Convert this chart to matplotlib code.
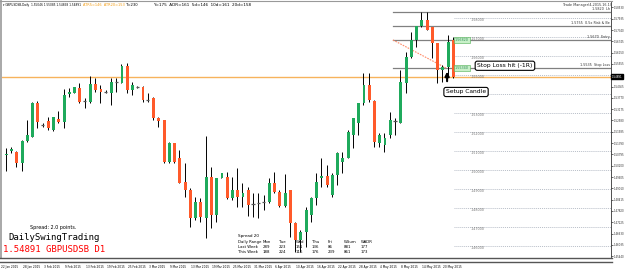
import matplotlib.pyplot as plt
import numpy as np

# daily candles, GBPUSD D1
opens = [1.5155, 1.5076, 1.5098, 1.5092, 1.5034, 1.5150, 1.5171, 1.5350, 1.5234, 1.5255,
         1.5208, 1.5266, 1.5250, 1.5397, 1.5403, 1.5429, 1.5361, 1.5355, 1.5450, 1.5424,
         1.5408, 1.5403, 1.5461, 1.5455, 1.5545, 1.5418, 1.5434, 1.5434, 1.5366, 1.5376,
         1.5271, 1.5261, 1.5040, 1.5140, 1.5061, 1.4934, 1.4892, 1.4745, 1.4829, 1.4745,
         1.4961, 1.4761, 1.4956, 1.4961, 1.4850, 1.4892, 1.4855, 1.4892, 1.4818, 1.4824,
         1.4829, 1.4829, 1.4929, 1.4882, 1.4808, 1.4892, 1.4718, 1.4629, 1.4671, 1.4761,
         1.4850, 1.4956, 1.4966, 1.4866, 1.4971, 1.5040, 1.5061, 1.5182, 1.5245, 1.5350,
         1.5445, 1.5361, 1.5140, 1.5129, 1.5182, 1.5255, 1.5245, 1.5455, 1.5592, 1.5682,
         1.5755, 1.5787, 1.5750, 1.5666, 1.5524, 1.5539, 1.5682]
highs = [1.5166, 1.5113, 1.5118, 1.5098, 1.5155, 1.5261, 1.5355, 1.5361, 1.5245, 1.5276,
         1.5276, 1.5308, 1.5424, 1.5429, 1.5434, 1.5455, 1.5376, 1.5492, 1.5482, 1.5445,
         1.5418, 1.5482, 1.5482, 1.5555, 1.5561, 1.5461, 1.5439, 1.5439, 1.5403, 1.5382,
         1.5276, 1.5261, 1.5145, 1.5140, 1.5103, 1.5034, 1.4903, 1.4855, 1.4850, 1.5176,
         1.5013, 1.4956, 1.4982, 1.4987, 1.4961, 1.5008, 1.4929, 1.4908, 1.4876, 1.4876,
         1.4866, 1.4956, 1.4987, 1.4892, 1.4977, 1.4892, 1.4724, 1.4682, 1.4803, 1.4855,
         1.4982, 1.5061, 1.5024, 1.4982, 1.5092, 1.5092, 1.5208, 1.5271, 1.5350, 1.5508,
         1.5508, 1.5366, 1.5192, 1.5192, 1.5303, 1.5271, 1.5524, 1.5618, 1.5724, 1.5755,
         1.5829, 1.5829, 1.5750, 1.5666, 1.5550, 1.5708, 1.5697]
lows = [1.5024, 1.4992, 1.5087, 1.5013, 1.4992, 1.5145, 1.5171, 1.5219, 1.5224, 1.5208,
        1.5203, 1.5245, 1.5219, 1.5382, 1.5403, 1.5350, 1.5324, 1.5350, 1.5408, 1.5350,
        1.5403, 1.5340, 1.5408, 1.5455, 1.5403, 1.5392, 1.5429, 1.5355, 1.5355, 1.5261,
        1.5224, 1.5034, 1.5034, 1.5034, 1.4929, 1.4855, 1.4697, 1.4734, 1.4724, 1.4640,
        1.4692, 1.4724, 1.4956, 1.4845, 1.4839, 1.4803, 1.4803, 1.4755, 1.4750, 1.4745,
        1.4787, 1.4824, 1.4876, 1.4803, 1.4803, 1.4645, 1.4566, 1.4566, 1.4592, 1.4724,
        1.4813, 1.4908, 1.4908, 1.4855, 1.4919, 1.4982, 1.5061, 1.5113, 1.5182, 1.5340,
        1.5355, 1.5118, 1.5118, 1.5092, 1.5166, 1.5182, 1.5245, 1.5403, 1.5587, 1.5645,
        1.5750, 1.5734, 1.5587, 1.5455, 1.5461, 1.5487, 1.5482]
closes = [1.5076, 1.5082, 1.5108, 1.5034, 1.5150, 1.5182, 1.5350, 1.5250, 1.5236, 1.5219,
          1.5276, 1.5250, 1.5392, 1.5408, 1.5434, 1.5355, 1.5359, 1.5450, 1.5418, 1.5408,
          1.5406, 1.5461, 1.5463, 1.5545, 1.5418, 1.5445, 1.5436, 1.5366, 1.5364, 1.5271,
          1.5255, 1.5040, 1.5140, 1.5040, 1.4929, 1.4892, 1.4745, 1.4829, 1.4750, 1.4961,
          1.4761, 1.4956, 1.4982, 1.4850, 1.4892, 1.4855, 1.4876, 1.4813, 1.4816, 1.4822,
          1.4827, 1.4929, 1.4882, 1.4808, 1.4876, 1.4718, 1.4629, 1.4671, 1.4787, 1.4850,
          1.4934, 1.4966, 1.4919, 1.4971, 1.5087, 1.5061, 1.5197, 1.5271, 1.5350, 1.5445,
          1.5366, 1.5145, 1.5182, 1.5166, 1.5261, 1.5253, 1.5461, 1.5592, 1.5682, 1.5755,
          1.5787, 1.5734, 1.5666, 1.5524, 1.5539, 1.5671, 1.54891]

bid = 1.54891
round_levels = [1.58, 1.57, 1.56, 1.55, 1.54, 1.53, 1.52, 1.51, 1.50, 1.49, 1.48, 1.47, 1.46]
trade_levels = [1.5829, 1.5755, 1.5682, 1.5534]
trade_names = ["1.5820  Lh", "1.5755  0.5x Risk & Be", "1.5670  Entry", "1.5535  Stop Loss"]
axis_prices = [1.58530, 1.57935, 1.57340, 1.56745, 1.56150, 1.55555, 1.54365,
               1.53770, 1.53175, 1.52580, 1.51985, 1.51390, 1.50795, 1.50200, 1.49605,
               1.49010, 1.48415, 1.47820, 1.47225, 1.46630, 1.46035, 1.45440]
date_labels = ["22 Jan 2015", "28 Jan 2015", "3 Feb 2015", "9 Feb 2015", "13 Feb 2015",
               "19 Feb 2015", "25 Feb 2015", "3 Mar 2015", "9 Mar 2015", "13 Mar 2015",
               "19 Mar 2015", "25 Mar 2015", "31 Mar 2015", "6 Apr 2015", "10 Apr 2015",
               "16 Apr 2015", "22 Apr 2015", "28 Apr 2015", "4 May 2015", "8 May 2015",
               "14 May 2015", "20 May 2015"]

W, H = 625, 272
BULL = "#1faa5c"
BEAR = "#ff5a2a"


def fx(x):
    return x / W


def fy(y):
    return 1 - y / H


fig = plt.figure(figsize=(W / 100, H / 100), dpi=100)
ax = fig.add_axes([fx(2), fy(257), fx(609), (257 - 2) / H])
ax.set_facecolor("white")

n = len(opens)
x = np.arange(n)
ax.set_xlim(0.285, 116.06)
ax.set_ylim(1.45395, 1.58816)

# round number dotted lines
for lv in round_levels:
    ax.plot([86.3, 116.1], [lv, lv], color="#b8bec8", lw=0.7, ls=(0, (1, 1)))
    ax.text(89.4, lv - 0.0002, f"{lv:.5f}", fontsize=2.4, color="#777777", va="top")

# trade manager levels
for lv, name in zip(trade_levels, trade_names):
    ax.plot([74.6, 116.1], [lv, lv], color="#808080", lw=0.9)
    ax.text(115.8, lv + 0.0004, name, fontsize=2.4, ha="right", va="bottom", color="#333333")

# bid line
ax.axhline(bid, color="#f7b35c", lw=1.0)

# candles
for i in range(n):
    o, h, l, c = opens[i], highs[i], lows[i], closes[i]
    ax.vlines(x[i], l, h, color="black", lw=0.7, zorder=3)
    if abs(c - o) < 0.0004:
        ax.hlines(o, x[i] - 0.3, x[i] + 0.3, color="#555555", lw=0.9, zorder=4)
    else:
        col = BULL if c > o else BEAR
        ax.bar(x[i] + 0.1, abs(c - o), bottom=min(o, c), width=0.55, color=col,
               edgecolor="none", zorder=4)

# trendline (dotted salmon)
ax.plot([74.6, 84.7], [1.5682, 1.5534], color="#ff8c69", lw=0.8, ls=(0, (1.5, 1)))

# green price boxes
for lv in [1.5682, 1.5534]:
    ax.text(87.7, lv, f"{lv:.5f}", fontsize=2.4, color="#2e8b57", va="center", ha="center",
            bbox=dict(boxstyle="square,pad=0.3", fc="#c8f0c8", ec="#4caf50", lw=0.4), zorder=5)

# annotations
ax.text(95.9, 1.5546, "Stop Loss hit (-1R)", fontsize=4.3, va="center", ha="center",
        bbox=dict(boxstyle="round,pad=0.35", fc="white", ec="black", lw=0.8), zorder=6)
ax.text(88.5, 1.5408, "Setup Candle", fontsize=4.3, va="center", ha="center",
        bbox=dict(boxstyle="round,pad=0.35", fc="white", ec="black", lw=0.8), zorder=6)
ax.annotate("", xy=(84.9, 1.5530), xytext=(84.9, 1.5450),
            arrowprops=dict(arrowstyle="-|>", color="black", lw=1.5, mutation_scale=6), zorder=6)

# right price axis
ax.yaxis.tick_right()
ax.set_yticks(axis_prices)
ax.set_yticklabels([f"{p:.5f}" for p in axis_prices], fontsize=1.9)
ax.tick_params(axis="y", length=1.2, width=0.5, pad=0.5, colors="#333333")
ax.set_xticks([])
for s in ["top", "bottom", "left"]:
    ax.spines[s].set_visible(False)
ax.spines["right"].set_color("#333333")
ax.spines["right"].set_linewidth(0.6)
ax.text(1.001, bid, "1.54891", transform=ax.get_yaxis_transform(), fontsize=1.9,
        color="white", va="center", ha="left",
        bbox=dict(boxstyle="square,pad=0.25", fc="black", ec="black"))

# frame lines
fig.add_artist(plt.Line2D([fx(0.5), fx(0.5)], [fy(0), fy(258)], color="#999999", lw=1.2))
fig.add_artist(plt.Line2D([0, fx(612)], [fy(1), fy(1)], color="#999999", lw=0.8))
for yy in [258, 261.5]:
    fig.add_artist(plt.Line2D([0, fx(612)], [fy(yy), fy(yy)], color="#555555", lw=1.0))

# date labels
for k, lab in enumerate(date_labels):
    fig.text(fx(0.5 + 5.26 * 4 * k + 1), fy(267), lab, fontsize=2.1, va="center", ha="left")

# header
fig.text(fx(3), fy(5), "\u25BE GBPUSDSB,Daily  1.55046 1.55085 1.54858 1.54891",
         fontsize=2.1, va="center")
fig.text(fx(83), fy(5), "ATR5=146  ATR20=153", fontsize=2.5, va="center", color="#f39c12")
fig.text(fx(126), fy(5), "T=230", fontsize=2.7, va="center")
fig.text(fx(153), fy(5), "Y=175  ADR=161  5d=146  10d=161  20d=158", fontsize=3, va="center")
fig.text(fx(563), fy(5), "Trade Manager(4,2015.16.1)", fontsize=2.4, va="center", color="#333333")

# bottom-left info
fig.text(fx(30), fy(228), "Spread: 2.0 points.", fontsize=3.5, va="center")
fig.text(fx(8), fy(238), "DailySwingTrading", fontsize=6.5, va="center", family="DejaVu Sans Mono")
fig.text(fx(3), fy(249), "1.54891 GBPUSDSB D1", fontsize=6.5, va="center",
         family="DejaVu Sans Mono", color="red")

# daily range table
fig.text(fx(238), fy(236), "Spread 20", fontsize=3, va="center")
cols_x = [238, 263, 279, 296, 312, 328, 344, 361]
rows = [["Daily Range", "Mon", "Tue", "Wed", "Thu", "Fri", "WSum", "WADR"],
        ["Last Week", "289", "223", "151", "136", "86", "881", "177"],
        ["This Week", "188", "224", "116", "176", "239", "861", "173"]]
for r, row in enumerate(rows):
    for cx, cell in zip(cols_x, row):
        fig.text(fx(cx), fy(242 + 5 * r), cell, fontsize=2.8, va="center")

fig.savefig("out.png", dpi=100, facecolor="white")
